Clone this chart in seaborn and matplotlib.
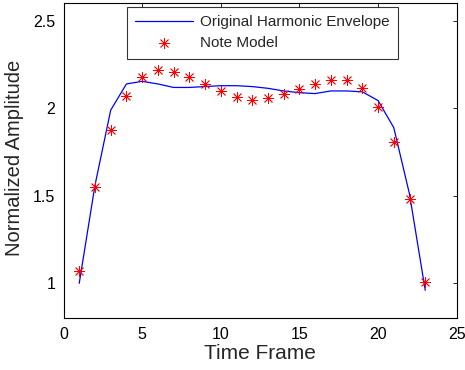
import matplotlib
matplotlib.use("Agg")
import matplotlib.pyplot as plt
import seaborn as sns
import pandas as pd

frames = list(range(1, 24))
envelope = [1.00, 1.56, 1.99, 2.14, 2.155, 2.14, 2.12, 2.12, 2.125, 2.13, 2.13, 2.125,
            2.115, 2.10, 2.09, 2.085, 2.10, 2.10, 2.095, 2.045, 1.89, 1.51, 0.96]
note_model = [1.07, 1.55, 1.875, 2.07, 2.18, 2.22, 2.21, 2.18, 2.14, 2.10, 2.065, 2.05,
              2.06, 2.08, 2.11, 2.14, 2.165, 2.165, 2.115, 2.01, 1.81, 1.48, 1.01]
x_ticks = [0, 5, 10, 15, 20, 25]
y_ticks = [1, 1.5, 2, 2.5]
y_tick_labels = ["1", "1.5", "2", "2.5"]

df = pd.DataFrame({"frame": frames, "envelope": envelope, "model": note_model})

sns.set_style("white")
plt.rcParams["font.family"] = ["Liberation Sans", "DejaVu Sans"]

fig = plt.figure(figsize=(4.65, 3.70), dpi=100)
ax = fig.add_axes([63.5 / 465, 1 - 318.3 / 370, (456.7 - 63.5) / 465, (318.3 - 3.5) / 370])

sns.lineplot(data=df, x="frame", y="envelope", ax=ax, color="#0000FF", linewidth=0.9,
             label="Original Harmonic Envelope")
sns.scatterplot(data=df, x="frame", y="model", ax=ax, marker=(8, 2, 0), color="#FF0000",
                s=55, linewidth=0.6, edgecolor="#FF0000", label="Note Model", zorder=3)

ax.set_xlim(0, 25)
ax.set_ylim(0.8, 2.6)
ax.set_xticks(x_ticks)
ax.set_yticks(y_ticks)
ax.set_yticklabels(y_tick_labels)
ax.tick_params(direction="in", top=True, right=True, length=3, width=0.6,
               labelsize=11.5, colors="black", pad=6)
ax.set_xlabel("Time Frame", fontsize=15, labelpad=2)
ax.set_ylabel("Normalized Amplitude", fontsize=14.5)
ax.yaxis.set_label_coords(-0.1005, 0.51)
for sp in ax.spines.values():
    sp.set_visible(True)
    sp.set_color("black")
    sp.set_linewidth(0.8)

leg = ax.legend(loc="upper left", bbox_to_anchor=(0.161, 0.989), borderaxespad=0,
                fontsize=11, frameon=True, fancybox=False, edgecolor="black",
                handlelength=3.8, handletextpad=0.45, borderpad=0.55, labelspacing=0.45)
leg.get_frame().set_linewidth(0.8)

fig.savefig("out.png", dpi=100)
